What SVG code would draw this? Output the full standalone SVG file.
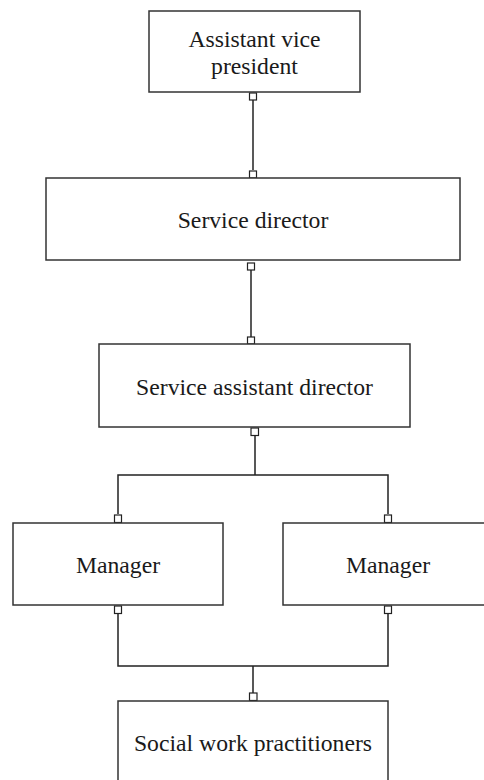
<svg xmlns="http://www.w3.org/2000/svg" width="484" height="780" viewBox="0 0 484 780">
<style>
.box{fill:#fff;stroke:#333;stroke-width:1.5}
.lbl{font-family:"Liberation Serif","Times New Roman",serif;font-size:23.7px;fill:#1a1a1a;text-anchor:middle}
.ln{fill:none;stroke:#222;stroke-width:1.5}
.pt{fill:#fff;stroke:#222;stroke-width:1.2}
</style>
<rect width="484" height="780" fill="#fff"/>
<g id="connectors">
<path class="ln" d="M253 100V170"/>
<path class="ln" d="M251 270V337"/>
<path class="ln" d="M255 436V475H118V514M255 475H388V514"/>
<path class="ln" d="M118 613V666H388V613M253 666V693"/>
<rect class="pt" x="249.5" y="93" width="7" height="7"/>
<rect class="pt" x="249.5" y="171" width="7" height="7"/>
<rect class="pt" x="247.5" y="263" width="7" height="7"/>
<rect class="pt" x="247.5" y="337" width="7" height="7"/>
<rect class="pt" x="251" y="428" width="7.5" height="7.5"/>
<rect class="pt" x="114.5" y="515" width="7" height="7.5"/>
<rect class="pt" x="384.5" y="515" width="7" height="7.5"/>
<rect class="pt" x="114.5" y="606" width="7" height="7.5"/>
<rect class="pt" x="384.5" y="606" width="7" height="7.5"/>
<rect class="pt" x="249.5" y="693" width="7.5" height="7.5"/>
</g>
<g id="avp">
<rect class="box" x="149" y="11" width="211" height="81"/>
<text class="lbl" x="254.5" y="47">Assistant vice</text>
<text class="lbl" x="254.5" y="74">president</text>
</g>
<g id="service-director">
<rect class="box" x="46" y="178" width="414" height="82"/>
<text class="lbl" x="253" y="228">Service director</text>
</g>
<g id="service-assistant-director">
<rect class="box" x="99" y="344" width="311" height="83"/>
<text class="lbl" x="254.5" y="395">Service assistant director</text>
</g>
<g id="manager-left">
<rect class="box" x="13" y="523" width="210" height="82"/>
<text class="lbl" x="118" y="573">Manager</text>
</g>
<g id="manager-right">
<rect class="box" x="283" y="523" width="210" height="82"/>
<text class="lbl" x="388" y="573">Manager</text>
</g>
<g id="social-work-practitioners">
<rect class="box" x="118" y="701" width="270" height="90"/>
<text class="lbl" x="253" y="751">Social work practitioners</text>
</g>
</svg>
